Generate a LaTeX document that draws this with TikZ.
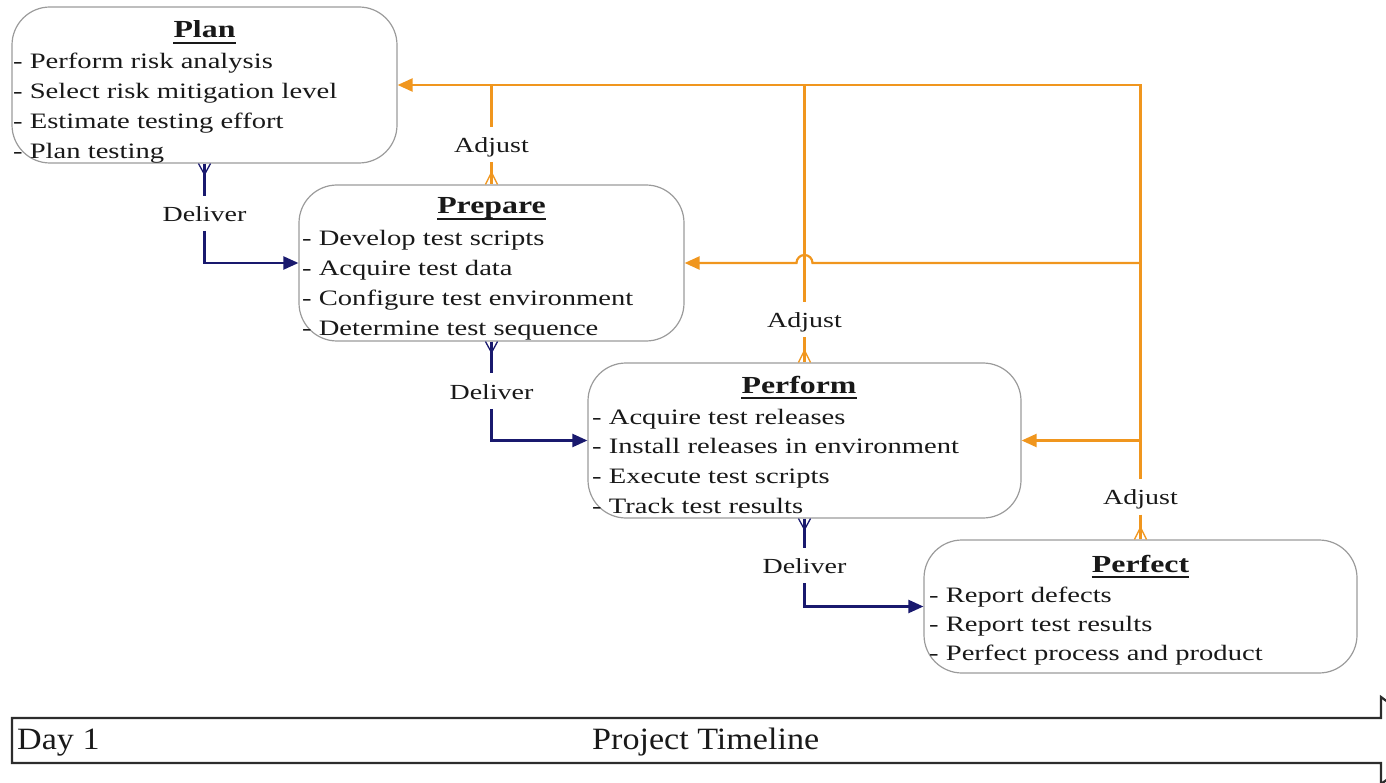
\documentclass[tikz,border=0pt]{standalone}
\usepackage{fontspec}
\setmainfont{Liberation Serif}[FakeStretch=1.3]
\newfontfamily\tlfont{Liberation Serif}[FakeStretch=1.1]
\usetikzlibrary{arrows.meta,calc}
\definecolor{navyc}{RGB}{25,25,110}
\definecolor{orangec}{RGB}{240,150,30}
\definecolor{boxgray}{RGB}{155,155,155}
\definecolor{inkc}{RGB}{25,25,25}
\definecolor{tlgray}{RGB}{45,45,45}
\begin{document}
\begin{tikzpicture}[x=1pt,y=-1pt,
  box/.style={draw=boxgray, line width=1.2pt, rounded corners=38pt, inner sep=0pt},
  ttl/.style={font=\fontsize{24.5}{28}\selectfont\bfseries, text=inkc, inner sep=0pt, anchor=base},
  item/.style={font=\fontsize{22}{29.5}\selectfont, text=inkc, inner sep=0pt, anchor=base west},
  lbl/.style={font=\fontsize{21.5}{26}\selectfont, text=inkc, inner xsep=2pt, inner ysep=0pt, text height=16pt, text depth=0pt, minimum height=35pt},
  deliv/.style={draw=navyc, line width=2.2pt},
  delarr/.style={deliv, -{Triangle[length=15pt,width=13pt]}},
  adj/.style={draw=orangec, line width=2.2pt},
  adjarr/.style={adj, -{Triangle[length=15pt,width=13pt]}},
  navyfoot/.style={draw=navyc, line width=1.3pt},
  orfoot/.style={draw=orangec, line width=1.3pt},
  uline/.style={draw=inkc, line width=1.5pt},
  tline/.style={draw=tlgray, line width=2.2pt},
  tltext/.style={font=\tlfont\fontsize{31}{36}\selectfont, text=inkc, inner sep=0pt, anchor=base west}
]
\useasboundingbox (0,0) rectangle (1386,783);

% boxes
\node[box, minimum width=385pt, minimum height=156pt] (plan) at (204.5,85) {};
\node[box, minimum width=385pt, minimum height=156pt] (prepare) at (491.5,263) {};
\node[box, minimum width=433pt, minimum height=155pt] (perform) at (804.5,440.5) {};
\node[box, minimum width=433pt, minimum height=133pt] (perfect) at (1140.5,606.5) {};

% titles
\node[ttl] (tplan) at (204.5,38) {Plan};
\node[ttl] (tprepare) at (491.5,214) {Prepare};
\node[ttl] (tperform) at (799,393) {Perform};
\node[ttl] (tperfect) at (1140.5,572) {Perfect};
\foreach \n in {tplan,tprepare,tperform,tperfect}
  \draw[uline] ([yshift=-5pt]\n.base west) -- ([yshift=-5pt]\n.base east);

% items
\foreach \t [count=\i from 0] in {- Perform risk analysis, - Select risk mitigation level, - Estimate testing effort, - Plan testing}
  \node[item] (plan-\i) at (13,{69+29.7*\i}) {\t};
\foreach \t [count=\i from 0] in {- Develop test scripts, - Acquire test data, - Configure test environment, - Determine test sequence}
  \node[item] (prepare-\i) at (302,{246+29.8*\i}) {\t};
\foreach \t [count=\i from 0] in {- Acquire test releases, - Install releases in environment, - Execute test scripts, - Track test results}
  \node[item] (perform-\i) at (592,{424+29.7*\i}) {\t};
\foreach \t [count=\i from 0] in {- Report defects, - Report test results, - Perfect process and product}
  \node[item] (perfect-\i) at (929,{602+29.2*\i}) {\t};

% labels
\node[lbl] (d1) at ($(plan.south)!0.5!(plan.south |- prepare.west)$) {Deliver};
\node[lbl] (d2) at ($(prepare.south)!0.5!(prepare.south |- perform.west)$) {Deliver};
\node[lbl] (d3) at ($(perform.south)!0.5!(perform.south |- perfect.west)+(0,3)$) {Deliver};
\node[lbl] (a1) at ($(prepare.north)+(0,-40)$) {Adjust};
\node[lbl] (a2) at ($(perform.north)+(0,-43)$) {Adjust};
\node[lbl] (a3) at ($(perfect.north)+(0,-42.5)$) {Adjust};

% deliver connectors
\draw[deliv] (plan.south) -- (d1.north);
\draw[delarr] (d1.south) |- (prepare.west);
\draw[deliv] (prepare.south) -- (d2.north);
\draw[delarr] (d2.south) |- (perform.west);
\draw[deliv] (perform.south) -- (d3.north);
\draw[delarr] (d3.south) |- (perfect.west);
\foreach \n in {plan,prepare,perform}
  \draw[navyfoot] ($(\n.south)+(-6,0)$) -- ($(\n.south)+(0,11)$) -- ($(\n.south)+(6,0)$);

% adjust connectors
\coordinate (c1) at (perfect.north |- plan.east);
\draw[adjarr] (a3.north) -- (c1) -- (plan.east);
\draw[adj] (a3.south) -- (perfect.north);
\draw[adj] (a2.north) -- (perform.north |- plan.east);
\draw[adj] (a2.south) -- (perform.north);
\draw[adj] (a1.north) -- (prepare.north |- plan.east);
\draw[adj] (a1.south) -- (prepare.north);
\draw[adjarr] (perfect.north |- perform.east) -- (perform.east);
\draw[adjarr] (perfect.north |- prepare.east) -- ($(perform.north |- prepare.east)+(8,0)$) arc (0:-180:8) -- (prepare.east);
\foreach \n in {prepare,perform,perfect}
  \draw[orfoot] ($(\n.north)+(-6,0)$) -- ($(\n.north)+(0,-12)$) -- ($(\n.north)+(6,0)$);

% timeline
\draw[tline] (12,718) -- (1381,718) -- (1381,697) -- (1440,740.5) -- (1381,784) -- (1381,763) -- (12,763) -- cycle;
\node[tltext] (day1) at (17,749) {Day 1};
\node[tltext] (ptl) at (592,749) {Project Timeline};
\end{tikzpicture}
\end{document}
